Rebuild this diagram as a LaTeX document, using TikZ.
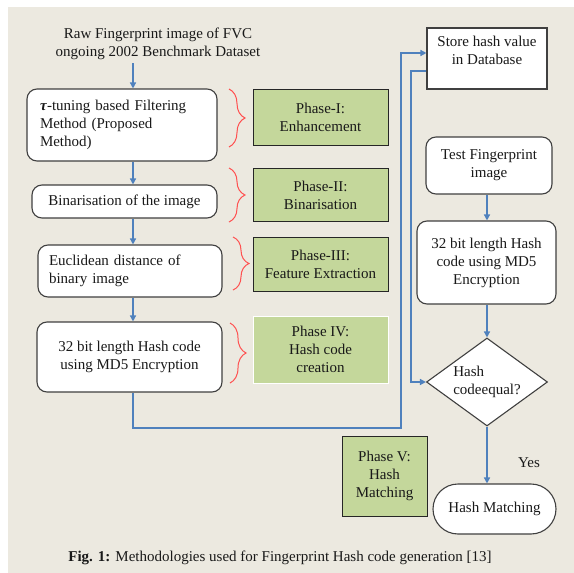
\documentclass[tikz,border=0pt]{standalone}
\usepackage{fontspec}
\setmainfont{Liberation Serif}
\usetikzlibrary{decorations.pathreplacing,arrows.meta,shapes.geometric}
\definecolor{bg}{HTML}{ECE9E0}
\definecolor{grn}{HTML}{C4D79B}
\definecolor{flowblue}{HTML}{4F81BD}
\definecolor{bracered}{HTML}{FF5050}
\definecolor{edgegray}{HTML}{404040}
\begin{document}
\begin{tikzpicture}[x=1pt,y=-1pt,
  every node/.style={font=\fontsize{15}{18}\selectfont, text=black!90},
  rbox/.style={draw=edgegray, line width=1.1pt, fill=white, rounded corners=10pt, inner sep=0pt},
  sqbox/.style={draw=edgegray, line width=1.1pt, fill=white, inner sep=0pt},
  phase/.style={draw=black!85, line width=1pt, fill=grn, inner sep=0pt, align=center},
  flow/.style={draw=flowblue, line width=1.7pt, -{Triangle[length=6pt,width=6pt]}},
  brc/.style={draw=bracered, line width=1pt, decorate, decoration={brace, amplitude=16pt, aspect=0.5}}
]
\useasboundingbox (0,0) rectangle (574,573);
\fill[bg] (8,7) rectangle (574,573);

\coordinate (xl) at (133,0);
\coordinate (xr) at (411,0);
\coordinate (xc) at (487,0);

% left column
\node[align=center] (title) at (158,44) {Raw Fingerprint image of FVC\\ongoing 2002 Benchmark Dataset};
\node[rbox, minimum width=190pt, minimum height=72pt, text width=164pt, inner xsep=13pt, align=left] (b1) at (122,125)
  {\textbf{\textit{τ}}-tuning based Filtering\\Method (Proposed\\Method)};
\node[rbox, minimum width=185pt, minimum height=33pt, align=center] (b2) at (124.5,201.5) {Binarisation of the image};
\node[rbox, minimum width=184pt, minimum height=52pt, text width=162pt, inner xsep=11pt, align=left] (b3) at (130,271)
  {Euclidean distance of\\binary image};
\node[rbox, minimum width=185pt, minimum height=70pt, align=center] (b4) at (129.5,357)
  {32 bit length Hash code\\using MD5 Encryption};

% phases
\node[phase, minimum width=135pt, minimum height=56pt] (p1) at (320.5,117) {Phase-I:\\Enhancement};
\node[phase, minimum width=135pt, minimum height=53pt] (p2) at (320.5,195) {Phase-II:\\Binarisation};
\node[phase, minimum width=135pt, minimum height=54pt] (p3) at (320.5,264) {Phase-III:\\Feature Extraction};
\node[phase, draw=white, line width=0.8pt, minimum width=135pt, minimum height=67pt] (p4) at (320.5,349.5) {Phase IV:\\Hash code\\creation};
\node[phase, minimum width=85pt, minimum height=80pt] (p5) at (384.5,476) {Phase V:\\Hash\\Matching};

% braces
\draw[brc] (229,89) -- (229,147);
\draw[brc] (229,168) -- (229,222);
\draw[brc] (233,237) -- (233,290);
\draw[brc] (230,323) -- (230,383);

% right column
\node[sqbox, minimum width=120pt, minimum height=61pt,
  label={[name=storetxt, align=center, anchor=north, yshift=-5pt]north:Store hash value\\in Database}] (store) at (487,58.5) {};
\node[rbox, minimum width=126pt, minimum height=57pt, align=center] (test) at (489,165.5) {Test Fingerprint\\image};
\node[rbox, minimum width=139pt, minimum height=83pt, align=center] (h2) at (486.5,262.5) {32 bit length Hash\\code using MD5\\Encryption};
\node[diamond, draw=edgegray, line width=1.1pt, fill=white, aspect=1.375, inner sep=0pt,
  minimum width=121pt, minimum height=88pt, align=left] (dia) at (487,382) {Hash\\codeequal?};
\node[rbox, rounded corners=25pt, minimum width=123pt, minimum height=50pt] (hm) at (494.5,509) {Hash Matching};
\node (yes) at (529,463) {Yes};

% connectors
\draw[flow] (title.south -| xl) -- (b1.north -| xl);
\draw[flow] (b1.south -| xl) -- (b2.north -| xl);
\draw[flow] (b2.south -| xl) -- (b3.north -| xl);
\draw[flow] (b3.south -| xl) -- (b4.north -| xl);
\draw[flow] (b4.south -| xl) |- (401,428) |- ([yshift=5.5pt]store.west);
\draw[flow] ([yshift=-12.5pt]store.west) -| (dia.west -| xr) -- (dia.west);
\draw[flow] (test.south -| xc) -- (h2.north -| xc);
\draw[flow] (h2.south -| xc) -- (dia.north);
\draw[flow] (dia.south) -- (hm.north -| xc);

% caption
\node (cap) at (280,558) {\textbf{Fig. 1:} Methodologies used for Fingerprint Hash code generation [13]};
\end{tikzpicture}
\end{document}
